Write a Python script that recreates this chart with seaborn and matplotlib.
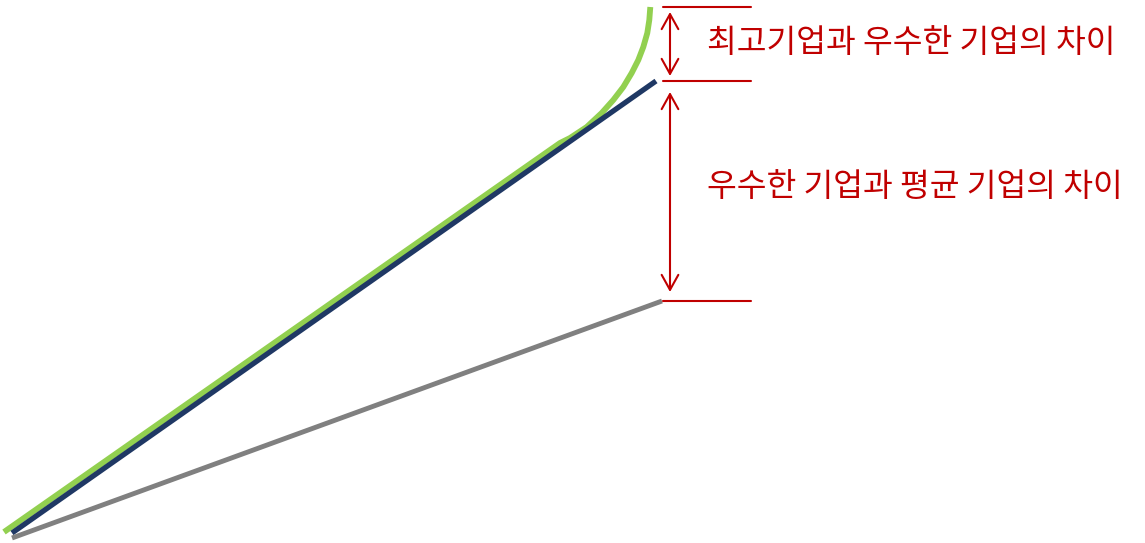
import numpy as np
import pandas as pd
import matplotlib
matplotlib.use("Agg")
import matplotlib.pyplot as plt
import seaborn as sns

# data (x = time, y = performance level; pixel-like units)
best_x = [4, 560, 570, 586.7, 601.7, 613.3, 623.3, 631.7, 638.3, 643.3, 647.3, 649.3, 650.3]
best_y = [11, 400, 405, 416, 430, 443, 456, 470, 483, 496, 510, 523, 536]
good_x = [12, 656]
good_y = [10, 462]
avg_x = [12, 662]
avg_y = [5, 242]

gap_levels = [536, 462, 242]
gap_labels = ["최고기업과 우수한 기업의 차이", "우수한 기업과 평균 기업의 차이"]

RED = "#C00000"

sns.set_theme(style="white")
plt.rcParams["font.family"] = ["Noto Sans CJK KR", "DejaVu Sans"]

fig = plt.figure(figsize=(11.45, 5.43), dpi=100)
ax = fig.add_axes([0, 0, 1, 1])

df = pd.concat([
    pd.DataFrame({"x": best_x, "y": best_y, "s": "best"}),
    pd.DataFrame({"x": good_x, "y": good_y, "s": "good"}),
    pd.DataFrame({"x": avg_x, "y": avg_y, "s": "avg"}),
])
sns.lineplot(data=df, x="x", y="y", hue="s", sort=False, estimator=None,
             palette={"best": "#92D050", "good": "#1F3864", "avg": "#808080"},
             linewidth=4.2, legend=False, ax=ax)
for line in ax.lines:
    line.set_solid_capstyle("butt")
    line.set_solid_joinstyle("round")
ax.lines[1].set_linewidth(3.8)
ax.lines[2].set_linewidth(3.5)

for lv in gap_levels:
    ax.plot([663, 751], [lv, lv], color=RED, lw=1.5)

arrow = dict(arrowstyle="<->,head_length=0.45,head_width=0.25", color=RED, lw=1.5,
             mutation_scale=24, shrinkA=0, shrinkB=0)
ax.annotate("", xy=(670, 531), xytext=(670, 467), arrowprops=arrow)
ax.annotate("", xy=(670, 451), xytext=(670, 251), arrowprops=arrow)

ax.text(707, 500, gap_labels[0], color=RED, fontsize=23.3, va="center", ha="left")
ax.text(707, 356, gap_labels[1], color=RED, fontsize=23.3, va="center", ha="left")

ax.set_xlim(0, 1145)
ax.set_ylim(0, 543)
ax.set_axis_off()

fig.savefig("out.png", dpi=100)
plt.close(fig)
